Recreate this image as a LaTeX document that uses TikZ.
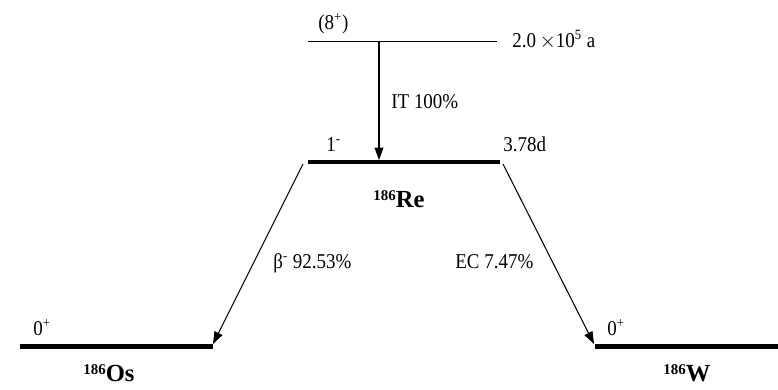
\documentclass[tikz,border=0pt]{standalone}
\usepackage{fontspec}
\setmainfont{Liberation Serif}
\newfontfamily\condfont[FakeStretch=0.9]{Liberation Serif}
\usetikzlibrary{arrows.meta}
\newcommand{\mass}[1]{\raisebox{3.5pt}{\fontsize{8.5}{9}\selectfont\bfseries #1}}
\begin{document}
\begin{tikzpicture}[x=0.02cm,y=-0.02cm,
  thin level/.style={line width=0.6pt},
  thick level/.style={line width=2.4pt},
  decay/.style={line width=0.6pt,-{Triangle[length=7pt,width=5pt]}},
  lbl/.style={inner sep=0pt,anchor=base west,font=\condfont\fontsize{12}{14}\selectfont},
  nuc/.style={inner sep=0pt,anchor=base west,font=\fontsize{14}{16}\selectfont\bfseries}]
\useasboundingbox (0,0) rectangle (778,389);
% levels
\coordinate (t1) at (308,41.5); \coordinate (t2) at (497,41.5);
\coordinate (r1) at (308,162); \coordinate (r2) at (500,162);
\coordinate (o1) at (20,346.5); \coordinate (o2) at (213,346.5);
\coordinate (w1) at (595,346.5); \coordinate (w2) at (778,346.5);
\draw[thin level] (t1) -- (t2);
\draw[thick level] (r1) -- (r2);
\draw[thick level] (o1) -- (o2);
\draw[thick level] (w1) -- (w2);
% arrows
\coordinate (itA) at (379,41.5); \coordinate (itB) at (379,160);
\draw[decay] (itA) -- (itB);
\coordinate (bA) at (303,164); \coordinate (bB) at (213,344);
\draw[decay] (bA) -- (bB);
\coordinate (eA) at (503,164); \coordinate (eB) at (594,344);
\draw[decay] (eA) -- (eB);
% labels
\node[lbl] (spin8) at (318,29) {(8\textsuperscript{+})};
\node[lbl] (hl8) at (512,47) {2.0\,$\times$10\textsuperscript{5} a};
\node[lbl] (it) at (391,108) {IT 100\%};
\node[lbl] (spin1) at (326,151) {1\textsuperscript{-}};
\node[lbl] (hlre) at (503,151) {3.78d};
\node[nuc] (re) at (373,207) {\mass{186}Re};
\node[lbl] (beta) at (273,268) {β\textsuperscript{-} 92.53\%};
\node[lbl] (ec) at (455,268) {EC 7.47\%};
\node[lbl] (spinos) at (33,335) {0\textsuperscript{+}};
\node[lbl] (spinw) at (607,335) {0\textsuperscript{+}};
\node[nuc] (os) at (83,381) {\mass{186}Os};
\node[nuc] (w) at (663,381) {\mass{186}W};
\end{tikzpicture}
\end{document}
